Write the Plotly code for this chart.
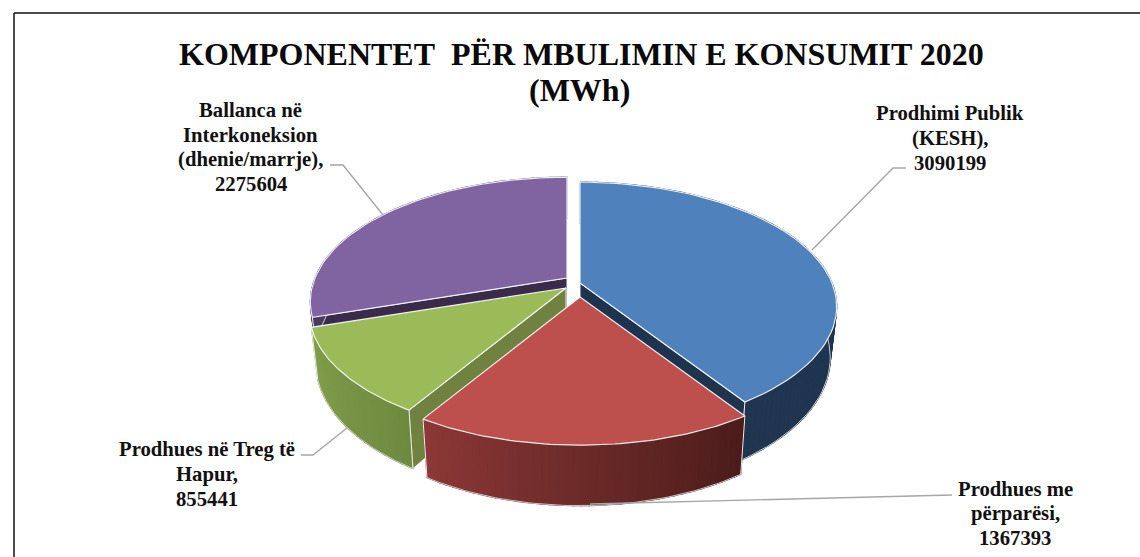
import math
import plotly.graph_objects as go

# ---- data ----
categories = ["Prodhimi Publik (KESH)", "Prodhues me përparësi",
              "Prodhues në Treg të Hapur", "Ballanca në Interkoneksion (dhenie/marrje)"]
values = [3090199, 1367393, 855441, 2275604]
label_lines = [["Prodhimi Publik", "(KESH),"],
               ["Prodhues me", "përparësi,"],
               ["Prodhues në Treg të", "Hapur,"],
               ["Ballanca në", "Interkoneksion", "(dhenie/marrje),"]]
title_lines = ["KOMPONENTET\u00a0 PËR MBULIMIN E KONSUMIT 2020", "(MWh)"]

# ---- styles / layout ----
top_colors = ["#4f81bd", "#bd4f4c", "#9bbb59", "#8064a2"]
side_left = ["#1f3550", "#8c3836", "#829f4c", "#4a3a60"]
side_right = ["#1f3550", "#4a1c1a", "#6e8a3f", "#4a3a60"]
wall_colors = ["#1d334e", "#4a1c1a", "#6f8240", "#3a2a4c"]
wall_side = ["end", None, "start", "start"]   # cut face that faces the viewer
apex_xy = [(580, 283), (580, 297), (566, 288), (567, 278)]
label_pos = [(950, 113, 25), (1015, 489, 24.5), (207, 449, 25), (250.5, 110, 24.5)]
title_x = [581, 579]
leaders = [[(812, 250), (893, 168), (906, 168)],
           [(590, 504), (952, 495)],
           [(347, 428), (313, 455), (301, 455)],
           [(383, 215), (343, 165), (330, 165)]]
RX, RY, K, H, SHRINK = 252, 120, 0.19, 49, 0.975
SERIF = "Liberation Serif"


def proj(i, deg, r=1.0, bottom=False):
    a = math.radians(deg)
    u, v = r * math.sin(a), r * math.cos(a)
    w = 1 + K * v
    x, y = RX * u / w, -RY * v / w
    if bottom:
        x *= SHRINK
        y += H / w
    return apex_xy[i][0] + x, apex_xy[i][1] + y


def mix(c1, c2, t):
    p = [int(c1[j:j + 2], 16) for j in (1, 3, 5)]
    q = [int(c2[j:j + 2], 16) for j in (1, 3, 5)]
    return "rgb(%d,%d,%d)" % tuple(round(a + (b - a) * t) for a, b in zip(p, q))


def poly(fig, pts, fill, line, width, name):
    fig.add_trace(go.Scatter(x=[p[0] for p in pts] + [pts[0][0]],
                             y=[p[1] for p in pts] + [pts[0][1]],
                             mode="lines", fill="toself", fillcolor=fill,
                             line=dict(color=line, width=width),
                             hoverinfo="text", text=name, showlegend=False))


total = sum(values)
starts, acc = [], 0.0
for val in values:
    starts.append(acc / total * 360)
    acc += val
ends = starts[1:] + [360.0]

fig = go.Figure()
EDGE = "rgba(245,245,245,0.95)"
for i in (3, 0, 2, 1):
    s, e = starts[i], ends[i]
    name = f"{categories[i]}: {values[i]}"
    arc = [s + (e - s) * k / 60 for k in range(61)]
    if wall_side[i]:
        edge = s if wall_side[i] == "start" else e
        poly(fig, [proj(i, 0, 0), proj(i, edge), proj(i, edge, bottom=True), proj(i, 0, 0, bottom=True)],
             wall_colors[i], EDGE, 1, name)
    n = max(8, int((e - s) / 1.5))
    for k in range(n):
        t0, t1 = s + (e - s) * k / n, s + (e - s) * (k + 1) / n
        t = (k + 0.5) / n
        col = mix(side_right[i], side_left[i], t)
        poly(fig, [proj(i, t0), proj(i, t1), proj(i, t1, bottom=True), proj(i, t0, bottom=True)],
             col, col, 1.2, name)
    bot = [proj(i, a, bottom=True) for a in arc]
    fig.add_trace(go.Scatter(x=[p[0] for p in bot], y=[p[1] for p in bot], mode="lines",
                             line=dict(color="rgba(215,215,215,0.9)", width=1),
                             hoverinfo="skip", showlegend=False))
    for edge in (s, e):
        a, b = proj(i, edge), proj(i, edge, bottom=True)
        fig.add_trace(go.Scatter(x=[a[0], b[0]], y=[a[1], b[1]], mode="lines",
                                 line=dict(color=EDGE, width=1),
                                 hoverinfo="skip", showlegend=False))
    top = [proj(i, 0, 0)] + [proj(i, a) for a in arc]
    poly(fig, top, top_colors[i], EDGE, 1.2, name)

for path in leaders:
    fig.add_trace(go.Scatter(x=[p[0] for p in path], y=[p[1] for p in path], mode="lines",
                             line=dict(color="#a6a6a6", width=1.4),
                             hoverinfo="skip", showlegend=False))

ann = []
for i, (cx, y0, dy) in enumerate(label_pos):
    lines = label_lines[i] + [str(values[i])]
    for j, txt in enumerate(lines):
        ann.append(dict(x=cx, y=y0 + j * dy, text=f"<b>{txt}</b>", showarrow=False,
                        xanchor="center", yanchor="middle",
                        font=dict(family=SERIF, size=20.7, color="#111111")))
for j, txt in enumerate(title_lines):
    ann.append(dict(x=title_x[j], y=54 + j * 36, text=f"<b>{txt}</b>", showarrow=False,
                    xanchor="center", yanchor="middle",
                    font=dict(family=SERIF, size=32, color="#0a0a0a")))

frame = [dict(type="line", x0=14, x1=1140, y0=13, y1=13),
         dict(type="line", x0=14, x1=14, y0=13, y1=557)]
for f in frame:
    f.update(xref="x", yref="y", line=dict(color="#111111", width=1.5))

fig.update_layout(width=1140, height=557, margin=dict(l=0, r=0, t=0, b=0),
                  paper_bgcolor="white", plot_bgcolor="white",
                  xaxis=dict(range=[0, 1140], visible=False, fixedrange=True),
                  yaxis=dict(range=[557, 0], visible=False, fixedrange=True),
                  annotations=ann, shapes=frame, showlegend=False)
fig.write_html("out.html", config=dict(displayModeBar=False),
               post_script="document.body.style.margin='0';document.documentElement.style.overflow='hidden';")
